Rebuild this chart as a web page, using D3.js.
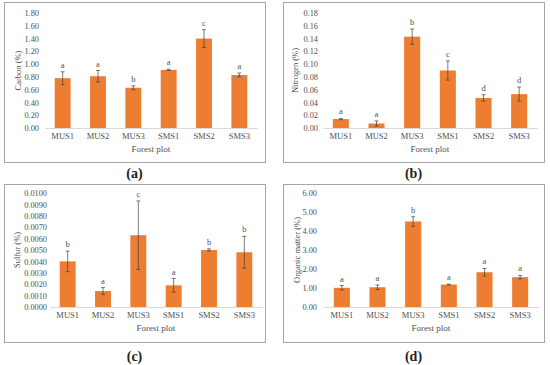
<!DOCTYPE html>
<html>
<head>
<meta charset="utf-8">
<script src="https://cdn.jsdelivr.net/npm/d3@7"></script>
<style>
body { margin: 0; background: #fff; }
svg { display: block; }
</style>
</head>
<body>
<div id="chart"></div>
<script>
var plots = ["MUS1", "MUS2", "MUS3", "SMS1", "SMS2", "SMS3"];

var carbon = [0.78, 0.81, 0.63, 0.91, 1.40, 0.83];
var carbonErr = [0.10, 0.09, 0.03, 0.01, 0.14, 0.03];
var carbonLetters = ["a", "a", "b", "a", "c", "a"];
var carbonTicks = [0, 0.2, 0.4, 0.6, 0.8, 1.0, 1.2, 1.4, 1.6, 1.8];

var nitrogen = [0.014, 0.007, 0.143, 0.090, 0.047, 0.053];
var nitrogenErr = [0.001, 0.004, 0.012, 0.015, 0.005, 0.011];
var nitrogenLetters = ["a", "a", "b", "c", "d", "d"];
var nitrogenTicks = [0, 0.02, 0.04, 0.06, 0.08, 0.10, 0.12, 0.14, 0.16, 0.18];

var sulfur = [0.0040, 0.0014, 0.0063, 0.0019, 0.0050, 0.0048];
var sulfurErr = [0.0009, 0.0003, 0.0030, 0.0006, 0.0001, 0.0014];
var sulfurLetters = ["b", "a", "c", "a", "b", "b"];
var sulfurTicks = [0, 0.001, 0.002, 0.003, 0.004, 0.005, 0.006, 0.007, 0.008, 0.009, 0.010];

var organic = [1.01, 1.04, 4.50, 1.18, 1.83, 1.57];
var organicErr = [0.12, 0.12, 0.25, 0.02, 0.20, 0.09];
var organicLetters = ["a", "a", "b", "a", "a", "a"];
var organicTicks = [0, 1, 2, 3, 4, 5, 6];

var panels = [
	{ tag: "(a)", title: "Carbon (%)", values: carbon, err: carbonErr, letters: carbonLetters, ticks: carbonTicks, fmt: ".2f",
		box: [4, 2, 265, 162], plot: [45, 13, 257, 128], titleX: 18, tagY: 173, pad: 6 },
	{ tag: "(b)", title: "Nitrogen (%)", values: nitrogen, err: nitrogenErr, letters: nitrogenLetters, ticks: nitrogenTicks, fmt: ".2f",
		box: [283, 2, 544, 162], plot: [323, 13, 537, 128], titleX: 295, tagY: 173, pad: 5 },
	{ tag: "(c)", title: "Sulfur (%)", values: sulfur, err: sulfurErr, letters: sulfurLetters, ticks: sulfurTicks, fmt: ".4f",
		box: [4, 184, 265, 342], plot: [50, 193, 262, 307], titleX: 17, tagY: 356, pad: 3 },
	{ tag: "(d)", title: "Organic matter (%)", values: organic, err: organicErr, letters: organicLetters, ticks: organicTicks, fmt: ".2f",
		box: [283, 184, 544, 342], plot: [324, 193, 538, 307], titleX: 297, tagY: 356, pad: 7 }
];

var serif = "'Liberation Serif', 'Times New Roman', serif";
var textColor = "#505050";

var svg = d3.select("#chart").append("svg")
	.attr("width", 550)
	.attr("height", 365);

var drawPanel = function(p) {
	var g = svg.append("g");

	// frame
	g.append("rect")
		.attr("x", p.box[0] + 0.5)
		.attr("y", p.box[1] + 0.5)
		.attr("width", p.box[2] - p.box[0])
		.attr("height", p.box[3] - p.box[1])
		.attr("fill", "none")
		.attr("stroke", "#a6a6a6")
		.attr("stroke-width", 1);

	var x = d3.scaleBand()
		.domain(plots)
		.range([p.plot[0], p.plot[2]])
		.paddingInner(0.55)
		.paddingOuter(0.275);

	var yMax = p.ticks[p.ticks.length - 1];
	var y = d3.scaleLinear()
		.domain([0, yMax])
		.range([p.plot[3], p.plot[1]]);

	// y tick labels, no axis line
	var yAxis = d3.axisLeft(y)
		.tickValues(p.ticks)
		.tickFormat(d3.format(p.fmt))
		.tickSize(0)
		.tickPadding(p.pad);
	var ya = g.append("g")
		.attr("transform", "translate(" + p.plot[0] + ",0)")
		.call(yAxis)
		.attr("font-family", serif)
		.attr("font-size", 8.3);
	ya.select(".domain").remove();
	ya.selectAll("text").attr("fill", textColor);

	// bars
	g.selectAll("rect.bar").data(p.values).enter()
		.append("rect")
		.attr("class", "bar")
		.attr("x", function(d, i) { return x(plots[i]); })
		.attr("y", function(d) { return y(d); })
		.attr("width", x.bandwidth())
		.attr("height", function(d) { return y(0) - y(d); })
		.attr("fill", "#ed7d31");

	// x axis
	var xAxis = d3.axisBottom(x).tickSize(0).tickPadding(5);
	var xa = g.append("g")
		.attr("transform", "translate(0," + p.plot[3] + ")")
		.call(xAxis)
		.attr("font-family", serif)
		.attr("font-size", 8.5);
	xa.select(".domain").attr("stroke", "#d9d9d9").attr("stroke-width", 1);
	xa.selectAll("text").attr("fill", textColor);

	// error bars
	var cx = function(i) { return x(plots[i]) + x.bandwidth() / 2; };
	var eb = g.selectAll("g.err").data(p.values).enter()
		.append("g")
		.attr("class", "err")
		.attr("stroke", "#404040")
		.attr("stroke-width", 0.7);
	eb.append("line")
		.attr("x1", function(d, i) { return cx(i); })
		.attr("x2", function(d, i) { return cx(i); })
		.attr("y1", function(d, i) { return y(d + p.err[i]); })
		.attr("y2", function(d, i) { return y(Math.max(0, d - p.err[i])); });
	[1, -1].forEach(function(s) {
		eb.append("line")
			.attr("x1", function(d, i) { return cx(i) - 2; })
			.attr("x2", function(d, i) { return cx(i) + 2; })
			.attr("y1", function(d, i) { return y(Math.max(0, d + s * p.err[i])); })
			.attr("y2", function(d, i) { return y(Math.max(0, d + s * p.err[i])); });
	});

	// significance letters
	g.selectAll("text.letter").data(p.values).enter()
		.append("text")
		.attr("class", "letter")
		.attr("x", function(d, i) { return cx(i); })
		.attr("y", function(d, i) { return y(d + p.err[i]) - 4; })
		.attr("text-anchor", "middle")
		.attr("font-family", serif)
		.attr("font-size", 8.5)
		.attr("fill", textColor)
		.text(function(d, i) { return p.letters[i]; });

	// axis titles
	g.append("text")
		.attr("x", (p.plot[0] + p.plot[2]) / 2)
		.attr("y", p.plot[3] + 24)
		.attr("text-anchor", "middle")
		.attr("font-family", serif)
		.attr("font-size", 9)
		.attr("fill", textColor)
		.text("Forest plot");
	g.append("text")
		.attr("transform", "translate(" + p.titleX + "," + ((p.plot[1] + p.plot[3]) / 2) + ") rotate(-90)")
		.attr("text-anchor", "middle")
		.attr("dy", "0.35em")
		.attr("font-family", serif)
		.attr("font-size", 8.5)
		.attr("fill", textColor)
		.text(p.title);

	// panel tag
	svg.append("text")
		.attr("x", (p.box[0] + p.box[2]) / 2)
		.attr("y", p.tagY)
		.attr("dy", "0.35em")
		.attr("text-anchor", "middle")
		.attr("font-family", serif)
		.attr("font-weight", "bold")
		.attr("font-size", 14)
		.attr("fill", "#222")
		.text(p.tag);
};

panels.forEach(drawPanel);
</script>
</body>
</html>
